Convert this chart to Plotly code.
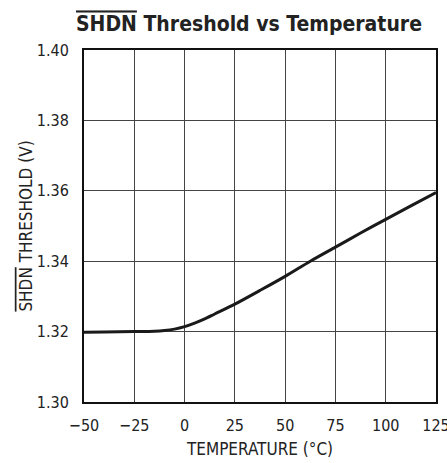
import plotly.graph_objects as go

temperature = [-50, -40, -25, -15, -10, -5, 0, 5, 10, 15, 25, 37.5, 50, 62.5, 75, 87.5, 100, 112.5, 125]
threshold = [1.3198, 1.3199, 1.3200, 1.3201, 1.3203, 1.3207, 1.3214, 1.3224, 1.3236, 1.3250, 1.3278,
             1.3317, 1.3357, 1.3400, 1.3440, 1.3480, 1.3519, 1.3557, 1.3595]

x_ticks = [-50, -25, 0, 25, 50, 75, 100, 125]
y_ticks = [1.30, 1.32, 1.34, 1.36, 1.38, 1.40]
y_tick_labels = ["1.30", "1.32", "1.34", "1.36", "1.38", "1.40"]

FONT = "DejaVu Sans Condensed, Liberation Sans Narrow, Roboto, sans-serif"
OL = '<span style="text-decoration:overline">SHDN</span>'

fig = go.Figure()
fig.add_trace(go.Scatter(x=temperature, y=threshold, mode="lines",
                         line=dict(color="#1a1a1a", width=3, shape="spline", smoothing=0.8),
                         showlegend=False, hoverinfo="skip"))

fig.update_layout(
    width=447, height=463,
    margin=dict(l=84, r=11, t=50, b=61, autoexpand=False),
    paper_bgcolor="white", plot_bgcolor="white",
    font=dict(family=FONT, color="#222", size=16),
    title=dict(text="<b>" + OL + " Threshold vs Temperature</b>",
               x=0.557, xanchor="center", y=0.948, yanchor="middle",
               font=dict(family=FONT, size=21, color="#222")),
)
fig.update_xaxes(range=[-50, 125], tickvals=x_ticks, ticktext=[("\u2212" + str(-v)) if v < 0 else str(v) for v in x_ticks],
                 showgrid=True, gridcolor="#444", gridwidth=1,
                 showline=True, linecolor="#111", linewidth=2, mirror=True,
                 zeroline=False, ticks="", ticklabelstandoff=8, automargin=False,
                 ticklabeloverflow="allow",
                 tickfont=dict(size=16),
                 title=dict(text="TEMPERATURE (°C)", font=dict(size=17), standoff=9))
fig.update_yaxes(range=[1.30, 1.40], tickvals=y_ticks, ticktext=y_tick_labels,
                 showgrid=True, gridcolor="#444", gridwidth=1,
                 showline=True, linecolor="#111", linewidth=2, mirror=True,
                 zeroline=False, ticks="", ticklabelstandoff=10, automargin=False,
                 ticklabeloverflow="allow",
                 tickfont=dict(size=16),
                 title=dict(text=OL + " THRESHOLD (V)", font=dict(size=17), standoff=0))

fig.write_html("out.html", config={"displayModeBar": False},
               post_script="document.body.style.margin='0';document.body.style.overflow='hidden';")
